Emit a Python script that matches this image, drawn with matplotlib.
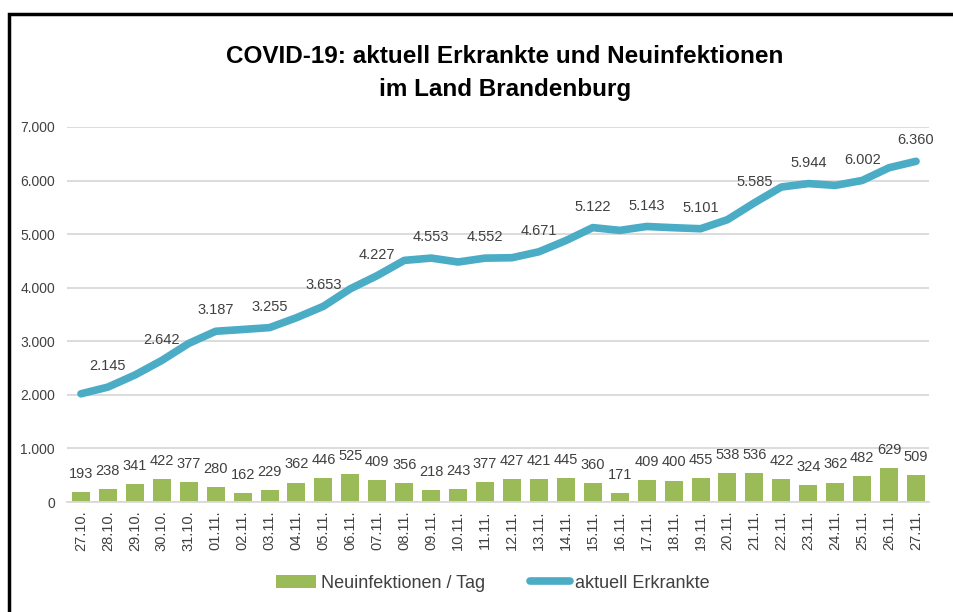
import matplotlib.pyplot as plt
from matplotlib.patches import Rectangle, Patch
from matplotlib.lines import Line2D
import numpy as np

plt.rcParams['font.family'] = ['Liberation Sans Narrow', 'Liberation Sans', 'DejaVu Sans']

# Daten
dates = ['27.10.', '28.10.', '29.10.', '30.10.', '31.10.', '01.11.', '02.11.', '03.11.',
         '04.11.', '05.11.', '06.11.', '07.11.', '08.11.', '09.11.', '10.11.', '11.11.',
         '12.11.', '13.11.', '14.11.', '15.11.', '16.11.', '17.11.', '18.11.', '19.11.',
         '20.11.', '21.11.', '22.11.', '23.11.', '24.11.', '25.11.', '26.11.', '27.11.']
neuinfektionen = [193, 238, 341, 422, 377, 280, 162, 229, 362, 446, 525, 409, 356, 218, 243, 377,
                  427, 421, 445, 360, 171, 409, 400, 455, 538, 536, 422, 324, 362, 482, 629, 509]
erkrankte = [2020, 2145, 2370, 2642, 2960, 3187, 3220, 3255, 3440, 3653, 3980, 4227, 4510, 4553, 4480, 4552,
             4560, 4671, 4880, 5122, 5070, 5143, 5120, 5101, 5270, 5585, 5880, 5944, 5910, 6002, 6240, 6360]

def fmt(v):
    return '{:,}'.format(v).replace(',', '.')

green = '#9BBB59'
blue = '#4BACC6'
txt = '#404040'

fig = plt.figure(figsize=(9.54, 6.12), dpi=100)
ax = fig.add_axes([67.5 / 954, 110 / 612, 862 / 954, 375 / 612])

x = np.arange(len(dates))
ax.bar(x, neuinfektionen, width=0.67, color=green, zorder=2)
ax.plot(x, erkrankte, color=blue, linewidth=5.5, solid_capstyle='round', solid_joinstyle='round', zorder=3)

# Beschriftungen
for i, v in enumerate(neuinfektionen):
    ax.annotate(fmt(v), (i, v), xytext=(0, 8), textcoords='offset points',
                ha='center', va='bottom', fontsize=10.5, color=txt)
for i, v in enumerate(erkrankte):
    if i % 2 == 1:
        ax.annotate(fmt(v), (i, v), xytext=(0, 10), textcoords='offset points',
                    ha='center', va='bottom', fontsize=10.5, color=txt)

ax.set_xlim(-0.5, len(dates) - 0.5)
ax.set_ylim(0, 7000)
ax.set_yticks(range(0, 7001, 1000))
ax.set_yticklabels([fmt(v) for v in range(0, 7001, 1000)], fontsize=10, color=txt)
ax.set_xticks(x)
ax.set_xticklabels(dates, rotation=90, fontsize=10.5, color=txt)
ax.tick_params(axis='both', length=0)
ax.tick_params(axis='y', pad=9)
ax.tick_params(axis='x', pad=6)
ax.grid(axis='y', color='#D9D9D9', linewidth=1.3, zorder=0)
ax.set_axisbelow(True)
for s in ['top', 'right', 'left']:
    ax.spines[s].set_visible(False)
ax.spines['bottom'].set_color('#D9D9D9')
ax.spines['bottom'].set_linewidth(1.3)

fig.text(505 / 954, 1 - 73 / 612, 'COVID-19: aktuell Erkrankte und Neuinfektionen\nim Land Brandenburg',
         ha='center', va='center', fontsize=17.5, fontweight='bold', linespacing=1.55, color='black')

handles = [Patch(facecolor=green, edgecolor='none'),
           Line2D([0], [0], color=blue, linewidth=5.5, solid_capstyle='round')]
fig.legend(handles, ['Neuinfektionen / Tag', 'aktuell Erkrankte'], loc='center',
           bbox_to_anchor=(493 / 954, 1 - 583 / 612), ncol=2, frameon=False,
           fontsize=13, handlelength=2.2, handletextpad=0.3, columnspacing=2.5,
           labelcolor=txt)

# Rahmen
fig.add_artist(Rectangle((9 / 954, -0.1), 1.2, (612 - 14) / 612 + 0.1, transform=fig.transFigure,
                         fill=False, edgecolor='black', linewidth=2.5))

fig.savefig('out.png', dpi=100, facecolor='white')
